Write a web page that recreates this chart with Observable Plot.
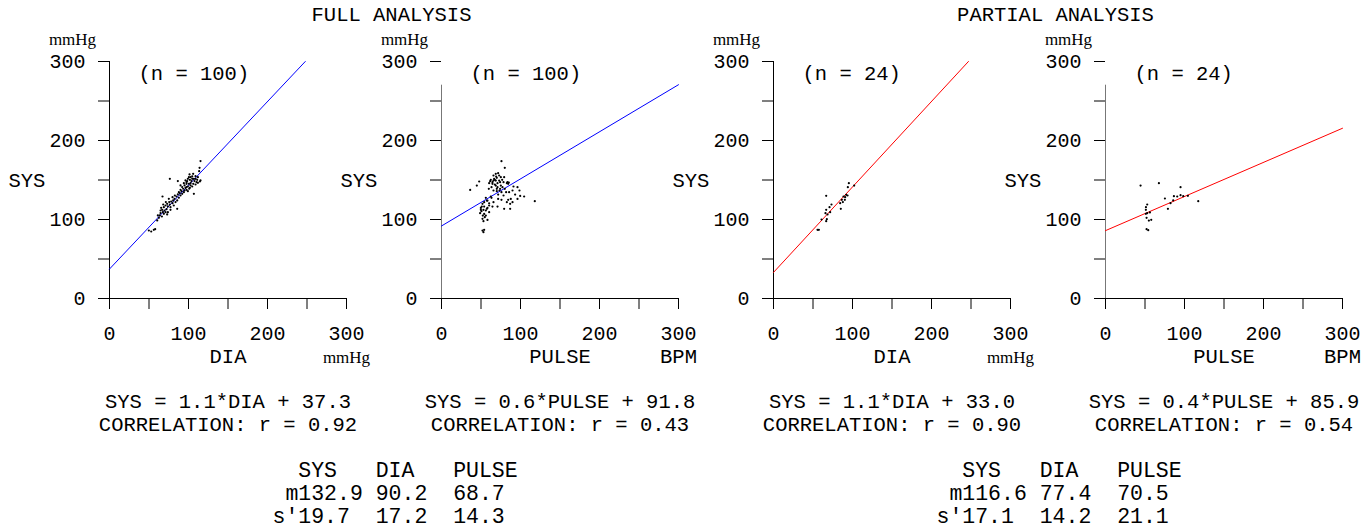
<!DOCTYPE html>
<html><head><meta charset="utf-8">
<script src="https://cdn.jsdelivr.net/npm/d3@7"></script>
<script src="https://cdn.jsdelivr.net/npm/@observablehq/plot@0.6"></script>
<style>
body{margin:0;background:#fff;}
#root{position:relative;width:1370px;height:531px;overflow:hidden;background:#fff;}
.title{position:absolute;width:400px;text-align:center;font-family:"Courier New","Liberation Mono",monospace;font-size:20.5px;line-height:24px;color:#000;white-space:pre;}
.panel{position:absolute;top:0;width:400px;height:531px;}
.panel svg{overflow:visible;max-width:none !important;width:400px;height:531px;}
</style></head><body><div id="root"></div>
<script>
// ---------- DATA ----------
const titles = ["FULL ANALYSIS", "PARTIAL ANALYSIS"];
const axisTicks = [0, 50, 100, 150, 200, 250, 300];

// FULL ANALYSIS, SYS vs DIA (n = 100)
const fullDia = [115.2,114,113.5,76.4,86.5,101.3,104.7,108.9,106.8,111,114.4,111.9,101.7,98.3,103.8,97.5,100.5,106,95,99.2,
102.6,96.2,93.3,100.9,106.8,97.5,91.2,94.1,89,86.5,89.9,84.8,87.8,67.1,82.3,80.6,85.7,78.1,75.6,79.8,
73,76.4,70.9,73.9,68.8,85.7,66.7,64.6,69.6,72.2,67.5,64.6,73.9,77.2,63.7,68.8,73,62.5,66.3,60.4,
56.1,57.8,52.8,49.8,102.6,99.2,104.7,108.9,96.2,107.6,110.2,94.1,102.6,108.9,104.7,97.5,92,101.7,95,99.2,
89.9,87.8,92,82.7,79.8,83.6,75.1,71.3,81.4,68,65.4,70.9,77.2,61.2,111.9,105.9,100.5,97.5,115.2,89.9];
const fullDiaSys = [173.9,165.4,161.2,151.5,148.6,157,154.5,154.9,151.5,150.2,148.1,146.4,150.2,148.6,148.6,145.2,145.2,145.2,143.1,141.8,
143.1,140.1,138.9,138.9,132.5,137.6,135.9,134.6,133.4,131.7,130.4,129.1,127.5,129.1,126.2,124.1,124.1,122.8,122,120.7,
119.9,119,117.7,116.5,115.6,113.5,112.3,111.4,111.4,113.1,109.3,108.1,109.3,112.3,105.1,107.2,106.4,102.1,103.8,98.8,
86.9,87.8,84.8,86.1,153.6,151.5,151.5,151.5,149.4,148.6,147.3,146,146,144.3,141.8,141,141,140.1,136.7,135.9,
137.6,134.6,132.5,130.4,128.3,122,126.2,122,117.7,119,114.8,109.3,115.6,105.1,153.6,157.8,153.6,147.3,149.4,143.1];

// FULL ANALYSIS, SYS vs PULSE (n = 100)
const fullPulse = [75.9,80.1,47.7,36.3,44.7,118.1,96.2,104.6,99.6,89.9,85.6,87.7,82.7,79.3,70.9,75.9,71.7,70,65.8,60.3,
64.5,62.4,83.5,84.4,79.3,78.5,68.7,71.7,65.8,62.4,60.3,64.5,68.7,73,75.1,70.9,70,74.2,67.5,63.3,
56.1,57.4,51.9,54,49.8,53.1,56.1,50.6,54,52.3,54.8,58.2,60.3,58.2,60.3,48.9,51.9,51.9,54,53.1,
93.2,86.9,66.6,75.1,65.8,67.5,70.9,77.2,73.4,75.9,82.7,85.2,89.9,86.9,96.2,71.7,65.8,61.6,73,70,
56.1,53.1,51,58.2,63.3,68.7,78.5,80.1,64.5,74.2,57.4,54,49.8,69.2,76.8,81.8,84.4,59.9,98.7,91.1];
const fullPulseSys = [173.8,165.4,148.1,137.5,143,123.2,140.9,129.1,129.9,136.7,134.6,126.1,121.9,113.5,116.4,124.9,126.1,135.8,121.9,120.6,
116.4,129.1,147.2,145.1,153.6,147.2,157.8,158.6,155.7,150.2,146,147.2,149.3,149.3,143,140.9,138.8,138.8,144.3,140.9,
127.4,124,119.8,116.4,114.7,112.2,111.4,110.5,107.1,105,102.9,99.5,109.3,114.7,117.7,108,100.8,86,86.9,83.9,
131.6,113.5,151.4,153.6,149.3,150.2,146,140.9,136.7,134.6,146,146.8,121.9,119.8,126.1,131.6,136.7,148.5,155.7,152.7,
105,97.9,116.4,124,127.4,143,130.4,138.8,145.1,147.2,113.5,121.9,112.2,154.4,150.2,134.6,124.9,138.8,136.7,141.8];

// PARTIAL ANALYSIS, SYS vs DIA (n = 24)
const partDia = [95.4,94.1,102.1,92,88.6,93.7,86.5,90.3,84.4,85.2,66.7,73.4,70.9,66.7,65.8,71.7,68.4,60.8,67.5,66.7,55.7,57.4,90.7,87.8];
const partDiaSys = [146,140.9,143,131.2,129.1,130.4,124.9,124.9,120.7,113.5,130,119,115.6,112.2,108,109.3,106.3,100,100.4,97.9,86.9,86.9,128.3,122];

// PARTIAL ANALYSIS, SYS vs PULSE (n = 24)
const partPulse = [44.4,67.6,95,95,98.4,104.3,86.6,85.7,75.2,82.3,79,117.4,52.8,51.2,51.1,52.8,56.2,52,54.9,57.9,52,54.1,51.1,90.8];
const partPulseSys = [143,146,140.9,130.8,129.5,130,129.5,124.1,126.6,120.7,113.5,123.2,119,115.6,112.2,108,108.9,102.1,98.7,99.6,87.8,86.5,107.2,129.1];

// regression lines (as drawn) and printed results
const nCounts = [100, 100, 24, 24];
const xNames = ["DIA", "PULSE", "DIA", "PULSE"];
const xUnits = ["mmHg", "BPM", "mmHg", "BPM"];
const slopes = [1.06, 0.596, 1.082, 0.432];
const intercepts = [37.3, 91.8, 33.0, 85.9];
const eqTexts = ["SYS = 1.1*DIA + 37.3", "SYS = 0.6*PULSE + 91.8", "SYS = 1.1*DIA + 33.0", "SYS = 0.4*PULSE + 85.9"];
const corrR = ["0.92", "0.43", "0.90", "0.54"];
const lineColors = ["#0000ff", "#0000ff", "#ff0000", "#ff0000"];

const statHeader = ["SYS", "DIA", "PULSE"];
const fullMeans = ["132.9", "90.2", "68.7"];
const fullSds = ["19.7", "17.2", "14.3"];
const partMeans = ["116.6", "77.4", "70.5"];
const partSds = ["17.1", "14.2", "21.1"];

// ---------- DRAW ----------
const mono = '"Courier New","Liberation Mono",monospace';
const serif = '"Times New Roman","Liberation Serif",serif';
const root = document.getElementById("root");

const xs = [fullDia, fullPulse, partDia, partPulse];
const ys = [fullDiaSys, fullPulseSys, partDiaSys, partPulseSys];

function tableText(means, sds) {
  return "  " + statHeader[0] + "   " + statHeader[1] + "   " + statHeader[2] + "\n" +
         " m" + means[0] + " " + means[1] + "  " + means[2] + "\n" +
         "s'" + sds[0] + "  " + sds[1] + "  " + sds[2];
}

const W = 400, L = 109, PW = 237, step = 332;
for (let i = 0; i < 4; i++) {
  const pts = xs[i].map((v, j) => ({x: v, y: ys[i][j]}));
  const m = slopes[i], b = intercepts[i];
  const xEnd = Math.min(300, (300 - b) / m);
  const reg = [{x: 0, y: b}, {x: xEnd, y: b + m * xEnd}];
  const isPulse = xNames[i] === "PULSE";
  const marks = [
    Plot.ruleY([0], {x1: 0, x2: 300, stroke: "#000"}),
    Plot.ruleX([0], {y1: 0, y2: isPulse ? 270 : 300, stroke: isPulse ? "#777" : "#000"}),
    Plot.axisX({ticks: axisTicks, tickFormat: d => d % 100 ? "" : d, tickSize: 11, tickPadding: 16, label: null, fontSize: 20}),
    Plot.axisY({ticks: axisTicks, tickFormat: d => d % 100 ? "" : d, tickSize: 11, tickPadding: 13, label: null, fontSize: 20}),
    Plot.line(reg, {x: "x", y: "y", stroke: lineColors[i], strokeWidth: 1}),
    Plot.dot(pts, {x: "x", y: "y", r: 1.1, fill: "#000", stroke: null}),
    Plot.text([`(n = ${nCounts[i]})`], {frameAnchor: "top-left", textAnchor: "start", lineAnchor: "middle", dx: 29, dy: 12, fontSize: 20.5}),
    Plot.text(["SYS"], {frameAnchor: "left", textAnchor: "start", lineAnchor: "middle", dx: -101, fontSize: 20.5}),
    Plot.text(["mmHg"], {frameAnchor: "top-left", textAnchor: "middle", lineAnchor: "bottom", dx: -37, dy: -17, fontFamily: serif, fontSize: 17}),
    Plot.text([xNames[i]], {frameAnchor: "bottom", lineAnchor: "bottom", dy: 64, fontSize: 20.5}),
    Plot.text([xUnits[i]], {frameAnchor: "bottom-right", textAnchor: "middle", lineAnchor: "bottom", dy: 64,
      fontFamily: isPulse ? mono : serif, fontSize: isPulse ? 20.5 : 17}),
    Plot.text([eqTexts[i] + "\nCORRELATION: r = " + corrR[i]], {frameAnchor: "bottom", lineAnchor: "bottom", dy: 132, lineHeight: 23 / 20.5, fontSize: 20.5})
  ];
  if (i === 0 || i === 2) {
    const t = i === 0 ? tableText(fullMeans, fullSds) : tableText(partMeans, partSds);
    marks.push(Plot.text([t], {frameAnchor: "bottom-left", textAnchor: "start", lineAnchor: "bottom", dx: 163, dy: 224, lineHeight: 23 / 21.5, fontSize: 21.5}));
  }
  const svg = Plot.plot({
    width: W, height: 531,
    marginLeft: L, marginRight: W - L - PW, marginTop: 61, marginBottom: 233,
    x: {domain: [0, 300]}, y: {domain: [0, 300]},
    style: {background: "transparent", overflow: "visible", fontFamily: mono, fontSize: "20px", color: "#000", whiteSpace: "pre", maxWidth: "none"},
    marks
  });
  const div = document.createElement("div");
  div.className = "panel";
  div.style.left = (step * i) + "px";
  div.appendChild(svg);
  root.appendChild(div);
}

// titles over each pair of panels
titles.forEach((t, k) => {
  const d = document.createElement("div");
  d.className = "title";
  const center = L + step * 2 * k + step / 2 + PW / 2 - 2;
  d.style.left = (center - 200) + "px";
  d.style.top = "4px";
  d.textContent = t;
  root.appendChild(d);
});
</script></body></html>
